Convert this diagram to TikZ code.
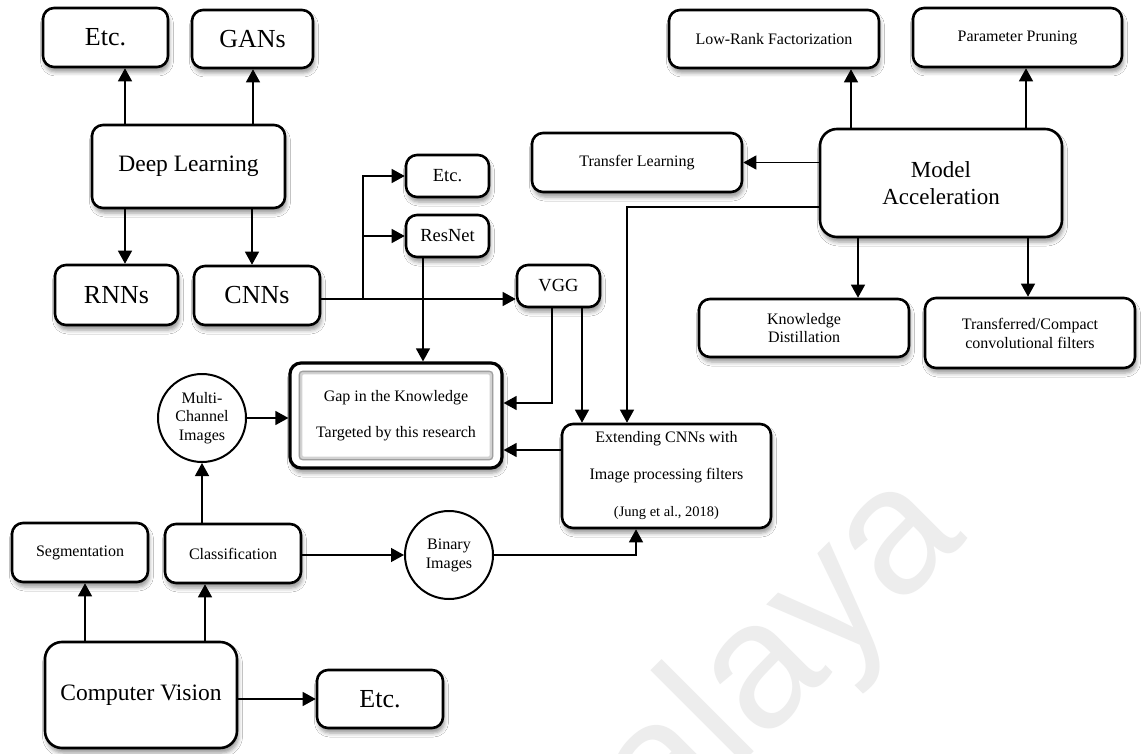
\documentclass[tikz,border=0pt]{standalone}
\usepackage{fontspec}
\setmainfont{Liberation Serif}
\newfontfamily\wmfont{Liberation Sans}
\usetikzlibrary{arrows.meta,shadows.blur,calc}
\newcommand\fBig{\fontsize{26}{28}\selectfont}
\newcommand\fDeep{\fontsize{23.5}{27}\selectfont}
\newcommand\fMid{\fontsize{18.5}{20}\selectfont}
\newcommand\fSmall{\fontsize{16}{19}\selectfont}
\begin{document}
\begin{tikzpicture}[x=1pt,y=-1pt,
  box/.style={draw, line width=2.6pt, rounded corners=11pt, fill=white, align=center, inner sep=0pt,
    blur shadow={shadow xshift=1.5pt, shadow yshift=-5pt, shadow blur radius=4pt, shadow opacity=40}},
  bigbox/.style={box, rounded corners=17pt},
  circ/.style={draw, circle, line width=2pt, minimum size=88pt, inner sep=0pt, align=center, fill=white,
    font=\fontsize{16}{18.5}\selectfont},
  conn/.style={line width=1.3pt, -{Triangle[length=13pt,width=14pt]}}
]
\useasboundingbox (0,0) rectangle (1143,754);
\fill[white] (0,0) rectangle (1143,754);

% watermark
\begin{scope}
\clip (0,0) rectangle (1143,754);
\node[rotate=45, anchor=base east, text=black!7, font=\wmfont\fontsize{180}{180}\selectfont, inner sep=0pt] (wm) at (968,538) {Malaya};
\end{scope}

% Deep learning group
\node[box, minimum width=125pt, minimum height=59pt, font=\fBig] (etcTL) at (105.5,37.5) {Etc.};
\node[box, minimum width=121pt, minimum height=58pt, font=\fBig] (gans) at (252.5,39) {GANs};
\node[box, minimum width=193pt, minimum height=83pt, font=\fDeep] (deep) at (188.5,166.5) {Deep Learning};
\node[box, minimum width=123pt, minimum height=60pt, font=\fBig] (rnns) at (116.5,295) {RNNs};
\node[box, minimum width=126pt, minimum height=59pt, font=\fBig] (cnns) at (257,295.5) {CNNs};

% middle
\node[box, minimum width=83pt, minimum height=42pt, font=\fMid] (etcM) at (447.5,176) {Etc.};
\node[box, minimum width=83pt, minimum height=42pt, font=\fMid] (resnet) at (447.5,236) {ResNet};
\node[box, minimum width=83pt, minimum height=42pt, font=\fMid] (vgg) at (558.5,286) {VGG};

% gap
\node[box, line width=3.2pt, minimum width=212pt, minimum height=105pt] (gap) at (396,415.5) {};
\draw[gray!35, line width=4pt, rounded corners=3pt] ($(gap.south west)+(12,-11)$) rectangle ($(gap.north east)+(-12,11)$);
\draw[gray!75, line width=1.2pt, rounded corners=3pt] ($(gap.south west)+(11,-10)$) rectangle ($(gap.north east)+(-11,10)$);
\node[align=center, font=\fontsize{16}{36}\selectfont] (gaptxt) at (gap.center) {Gap in the Knowledge\\Targeted by this research};

% computer vision group
\node[circ] (multi) at (202,418) {Multi-\\Channel\\Images};
\node[box, minimum width=136pt, minimum height=59pt, font=\fSmall] (seg) at (80,552.5) {Segmentation};
\node[box, minimum width=136pt, minimum height=59pt, font=\fSmall] (class) at (233,553.5) {Classification};
\node[circ, font=\fontsize{16}{19}\selectfont] (binary) at (449,555) {Binary\\Images};
\node[bigbox, minimum width=192pt, minimum height=106pt, font=\fDeep] (cv) at (141,695) {Computer Vision};
\node[box, minimum width=126pt, minimum height=58pt, font=\fBig] (etcB) at (380,699) {Etc.};

% extending
\node[box, minimum width=209pt, minimum height=104pt, font=\fontsize{16}{37}\selectfont] (ext) at (666.5,476)
  {Extending CNNs with\\Image processing filters\\{\fontsize{14.5}{37}\selectfont (Jung et al., 2018)}};

% model acceleration group
\node[box, minimum width=210pt, minimum height=58pt, font=\fSmall] (lowrank) at (774,39) {Low-Rank Factorization};
\node[box, minimum width=209pt, minimum height=59pt, font=\fSmall] (param) at (1017.5,37.5) {Parameter Pruning};
\node[box, minimum width=210pt, minimum height=59pt, font=\fSmall] (transfer) at (637,162.5) {Transfer Learning};
\node[bigbox, minimum width=242pt, minimum height=108pt, font=\fontsize{23}{27}\selectfont] (model) at (941,183) {Model\\Acceleration};
\node[box, minimum width=210pt, minimum height=58pt, font=\fontsize{16}{18.5}\selectfont] (know) at (804,328) {Knowledge\\Distillation};
\node[box, minimum width=210pt, minimum height=70pt, font=\fontsize{16}{19}\selectfont] (transf) at (1030,333) {Transferred/Compact\\convolutional filters};

% connectors: deep learning
\draw[conn] (deep.north -| 125,0) -- (etcTL.south -| 125,0);
\draw[conn] (deep.north -| 253,0) -- (gans.south -| 253,0);
\draw[conn] (deep.south -| 125,0) -- (rnns.north -| 125,0);
\draw[conn] (deep.south -| 252,0) -- (cnns.north -| 252,0);

% CNNs branches
\coordinate (br) at (363,299);
\draw[conn] (cnns.east |- br) -- (vgg.west |- br);
\draw[conn] (br) |- (etcM.west);
\draw[conn] (br) |- (resnet.west);

% into gap
\draw[conn] (resnet.south -| 423,0) -- (gap.north -| 423,0);
\draw[conn] (vgg.south -| 552,0) |- (gap.east |- 0,403);
\draw[conn] (ext.west |- 0,450) -- (gap.east |- 0,450);
\draw[conn] (multi.east) -- (gap.west |- multi.east);

% into extending
\draw[conn] (vgg.south -| 582,0) -- (ext.north -| 582,0);
\draw[conn] (model.west |- 0,207) -| (ext.north -| 627,0);
\draw[conn] (binary.east) -| (ext.south -| 636,0);

% computer vision
\draw[conn] (class.north -| multi.south) -- (multi.south);
\draw[conn] (class.east |- binary.west) -- (binary.west);
\draw[conn] (cv.north -| 85,0) -- (seg.south -| 85,0);
\draw[conn] (cv.north -| 205,0) -- (class.south -| 205,0);
\draw[conn] (cv.east |- etcB.west) -- (etcB.west);

% model acceleration
\draw[conn] (model.north -| 851,0) -- (lowrank.south -| 851,0);
\draw[conn] (model.north -| 1026,0) -- (param.south -| 1026,0);
\draw[conn] (model.west |- transfer.east) -- (transfer.east);
\draw[conn] (model.south -| 858,0) -- (know.north -| 858,0);
\draw[conn] (model.south -| 1028,0) -- (transf.north -| 1028,0);
\end{tikzpicture}
\end{document}
